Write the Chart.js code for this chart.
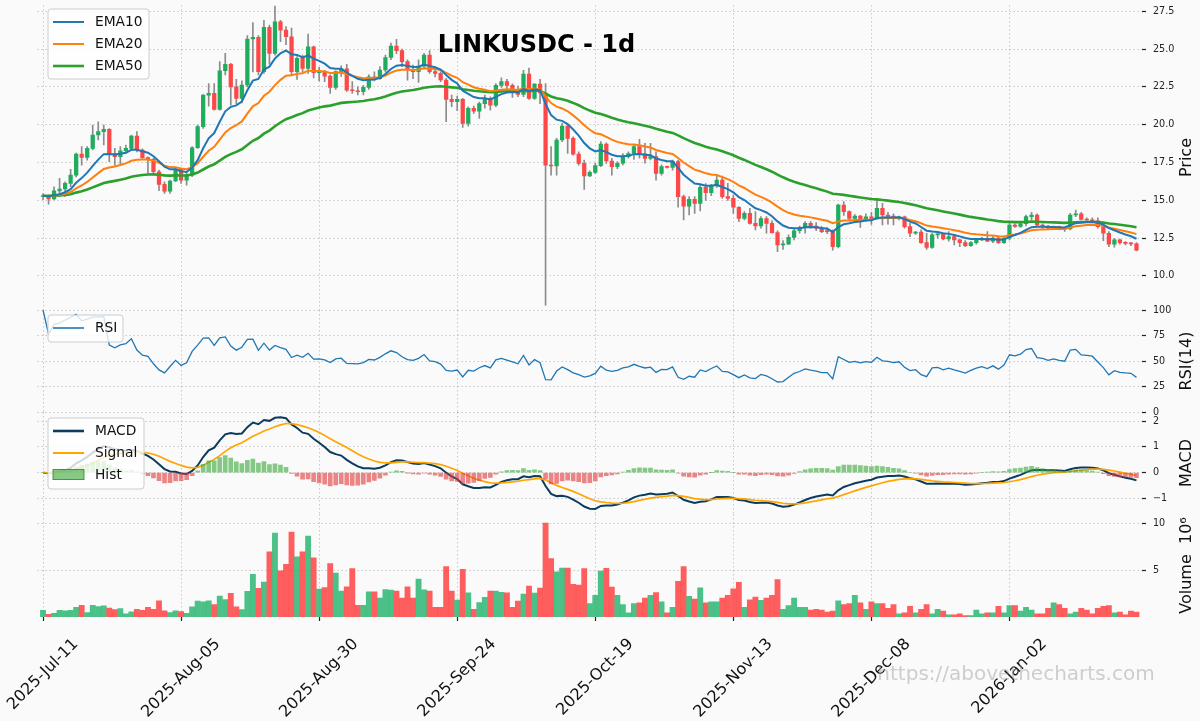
<!DOCTYPE html>
<html>
<head>
<meta charset="utf-8">
<title>LINKUSDC - 1d</title>
<script src="https://cdn.jsdelivr.net/npm/chart.js@4.4.1/dist/chart.umd.min.js"></script>
<style>
  html, body { margin:0; padding:0; background:#fafafa; }
  #wrap { position:relative; width:1200px; height:721px; overflow:hidden; background:#fafafa; }
  #wrap canvas { position:absolute; left:0; }
</style>
</head>
<body>
<div id="wrap">
  <canvas id="cPrice" width="1200" height="360" style="top:-25px"></canvas>
  <canvas id="cRsi" width="1200" height="162" style="top:280px"></canvas>
  <canvas id="cMacd" width="1200" height="162" style="top:382px"></canvas>
  <canvas id="cVol" width="1200" height="237" style="top:484px"></canvas>
</div>
<script>
// ---------------- DATA ----------------
const tickIndex  = [0, 25, 50, 75, 100, 125, 150, 175];
const tickLabels = ['2025-Jul-11','2025-Aug-05','2025-Aug-30','2025-Sep-24','2025-Oct-19','2025-Nov-13','2025-Dec-08','2026-Jan-02'];

const openP = [
15.25,15.30,15.10,15.63,15.75,16.12,16.67,18.06,17.84,18.44,
19.32,19.54,19.69,18.10,17.89,18.28,18.44,19.25,18.33,17.82,
17.71,16.89,16.06,15.60,16.28,17.05,16.34,16.67,18.48,19.87,
21.96,22.07,21.02,23.57,23.99,22.50,21.74,22.63,25.67,25.78,
23.51,26.44,24.72,26.81,26.26,25.82,23.51,24.39,23.73,25.16,
23.44,23.53,23.22,22.47,23.51,23.70,22.29,22.25,22.18,22.47,
23.17,23.05,23.62,24.45,25.20,24.90,24.17,23.62,23.51,23.88,
24.61,23.51,23.40,22.96,21.68,21.52,21.68,20.09,21.08,20.90,
21.40,21.74,21.30,22.60,22.85,22.60,22.30,22.00,23.35,21.74,
22.69,22.10,17.33,17.27,18.99,19.91,19.10,18.06,17.44,16.61,
16.85,17.29,18.72,17.60,17.23,17.45,17.89,18.10,18.55,18.10,
17.77,17.90,16.78,17.23,17.18,17.56,15.24,14.62,15.06,14.80,
15.86,15.50,15.95,16.34,15.24,15.13,14.54,13.80,14.14,13.48,
13.30,13.80,13.48,12.86,12.05,12.10,12.55,12.99,13.19,13.48,
13.30,13.15,12.98,12.93,11.93,14.69,14.25,13.81,13.95,13.75,
13.90,13.81,14.47,14.03,13.95,13.81,13.90,13.26,12.82,12.90,
12.20,11.89,12.71,12.75,12.44,12.60,12.38,12.20,12.00,12.20,
12.38,12.49,12.30,12.50,12.20,12.49,13.37,13.28,13.45,13.92,
14.03,13.37,13.30,13.15,13.26,13.15,13.10,14.03,14.10,13.74,
13.70,13.65,13.26,12.82,12.10,12.38,12.20,12.15,12.12];

const highP = [
15.45,15.35,15.90,16.45,16.22,17.05,18.12,18.55,18.55,19.98,
20.20,19.98,19.75,18.44,18.55,18.66,19.32,19.54,18.40,17.88,
17.77,17.00,16.23,16.34,17.11,17.11,16.82,18.55,19.98,22.00,
22.73,22.73,24.17,24.72,24.06,23.00,22.90,25.90,26.75,25.90,
26.90,26.60,27.85,26.90,26.50,26.40,24.50,24.60,26.00,25.20,
23.80,23.60,23.30,23.57,23.90,24.00,22.85,22.50,22.60,23.30,
23.50,23.85,24.60,25.40,25.65,25.00,24.30,23.95,24.30,24.72,
24.90,23.73,23.50,23.07,21.96,21.90,21.74,21.19,21.23,21.50,
21.96,21.85,22.73,23.10,23.00,22.70,22.55,23.60,23.75,22.73,
23.00,22.73,18.55,19.10,20.09,20.00,19.20,18.20,17.66,16.95,
17.44,18.88,18.80,17.77,17.56,18.10,18.20,18.66,19.03,18.77,
18.77,18.20,17.34,17.27,17.67,17.67,15.35,15.24,15.24,16.00,
16.10,16.05,16.60,16.60,16.12,15.35,14.58,14.25,14.47,14.25,
13.92,13.92,13.65,12.99,12.33,12.71,13.15,13.30,13.59,13.59,
13.52,13.26,13.20,13.04,14.75,14.92,14.30,14.05,14.00,14.10,
14.20,15.02,14.80,14.20,14.10,13.95,13.95,13.48,12.95,13.04,
12.82,12.82,12.82,12.82,12.93,12.71,12.44,12.33,12.27,12.44,
12.55,12.93,12.60,12.55,12.55,13.59,13.45,13.50,14.03,14.20,
14.10,13.45,13.35,13.30,13.30,13.20,14.14,14.36,14.20,13.85,
13.85,13.85,13.37,12.93,12.49,12.44,12.27,12.20,12.20];

const lowP = [
15.05,14.75,15.02,15.25,15.25,15.90,16.55,17.33,17.66,18.33,
18.99,18.66,17.55,17.33,17.33,18.10,18.33,18.20,17.77,16.78,
16.78,15.64,15.46,15.46,16.23,16.12,16.00,16.56,18.44,19.76,
21.23,20.97,20.97,23.30,21.30,21.40,21.45,22.50,23.50,23.30,
23.40,24.00,24.60,25.50,25.30,23.30,23.00,23.50,23.40,23.10,
22.90,22.85,22.07,22.34,23.20,22.20,22.07,21.97,21.97,22.34,
22.90,23.00,23.50,24.30,24.70,23.84,22.95,23.05,22.80,23.73,
23.40,23.17,22.85,20.20,21.19,20.93,19.83,19.90,20.75,20.42,
21.10,20.97,21.20,22.47,22.40,21.80,21.85,21.85,21.68,21.68,
21.40,8.07,16.67,16.67,18.88,18.10,17.99,17.33,15.72,16.56,
16.78,17.23,17.44,16.67,17.10,17.34,17.78,17.70,17.78,17.45,
17.67,16.34,16.67,17.12,17.00,14.54,13.70,14.03,14.14,14.30,
15.00,15.30,15.85,15.13,15.00,14.14,13.59,13.70,13.43,13.04,
13.15,12.82,12.82,11.60,11.76,12.08,12.38,12.82,12.82,13.15,
13.00,12.86,12.80,11.71,11.85,14.00,13.70,13.75,13.20,13.60,
13.40,13.75,13.37,13.43,13.37,13.70,13.15,12.60,12.75,12.15,
11.76,11.82,12.49,12.38,12.30,12.05,11.93,11.93,11.95,12.10,
12.33,12.27,12.20,12.15,12.15,12.38,13.20,13.20,13.30,13.70,
13.30,13.10,13.10,13.10,13.05,12.95,13.05,13.92,13.70,13.59,
13.59,13.15,12.33,11.93,11.90,12.10,12.05,12.00,11.65];

const closeP = [
15.30,15.10,15.63,15.75,16.12,16.67,18.06,17.84,18.44,19.32,
19.54,19.69,18.10,17.89,18.28,18.44,19.25,18.33,17.82,17.71,
16.89,16.06,15.60,16.28,17.05,16.34,16.67,18.48,19.87,21.96,
22.07,21.02,23.57,23.99,22.50,21.74,22.63,25.67,25.78,23.51,
26.44,24.72,26.81,26.26,25.82,23.51,24.39,23.73,25.16,23.44,
23.53,23.22,22.47,23.51,23.70,22.29,22.25,22.18,22.47,23.17,
23.05,23.62,24.45,25.20,24.90,24.17,23.62,23.51,23.88,24.61,
23.51,23.40,22.96,21.68,21.52,21.68,20.09,21.08,20.90,21.40,
21.74,21.30,22.60,22.85,22.60,22.30,22.00,23.35,21.74,22.69,
22.10,17.33,17.27,18.99,19.91,19.10,18.06,17.44,16.61,16.85,
17.29,18.72,17.60,17.23,17.45,17.89,18.10,18.55,18.10,17.77,
17.90,16.78,17.23,17.18,17.56,15.24,14.62,15.06,14.80,15.86,
15.50,15.95,16.34,15.24,15.13,14.54,13.80,14.14,13.48,13.30,
13.80,13.48,12.86,12.05,12.10,12.55,12.99,13.19,13.48,13.30,
13.15,12.93,12.93,11.93,14.69,14.25,13.81,13.95,13.75,13.90,
13.81,14.47,14.03,13.95,13.81,13.90,13.26,12.82,12.90,12.20,
11.89,12.71,12.75,12.44,12.60,12.38,12.20,12.00,12.20,12.38,
12.49,12.30,12.50,12.20,12.49,13.37,13.28,13.45,13.92,14.03,
13.37,13.30,13.15,13.26,13.15,13.10,14.03,14.10,13.74,13.70,
13.65,13.26,12.82,12.10,12.38,12.20,12.15,12.12,11.71];

// volume, in millions
const volumeM = [
0.69,0.25,0.36,0.69,0.62,0.69,1.00,1.23,0.43,1.23,
1.09,1.16,0.91,0.76,0.87,0.29,0.51,0.80,0.69,1.01,
0.80,1.70,0.62,0.43,0.62,0.54,0.36,1.05,1.67,1.60,
1.70,1.30,2.21,1.85,2.50,1.05,0.76,2.72,4.57,3.04,
3.73,6.99,9.02,4.93,5.65,9.13,6.45,6.99,8.70,6.34,
2.97,3.12,5.72,4.71,2.75,3.22,5.18,1.23,1.23,2.68,
2.68,2.00,2.93,2.86,2.75,2.00,3.22,2.00,4.06,2.90,
2.75,1.01,1.01,5.40,2.75,1.78,5.11,2.57,0.80,1.52,
2.07,2.75,2.75,2.61,2.57,1.01,1.67,2.43,3.30,2.54,
3.08,10.10,6.27,4.82,5.25,5.25,3.48,3.41,5.18,1.40,
2.30,4.90,5.20,3.20,2.30,1.30,0.40,1.40,1.50,2.00,
2.30,2.60,1.60,0.40,1.00,3.80,5.40,2.20,1.90,3.10,
1.50,1.60,1.60,2.00,2.30,3.00,3.70,1.00,1.80,2.10,
1.75,2.00,2.30,4.00,0.80,1.20,2.00,1.00,1.00,0.70,
0.80,0.70,0.50,0.60,1.70,1.30,1.40,2.30,1.50,0.80,
1.60,1.40,1.40,0.90,1.30,0.30,0.40,1.10,0.40,0.80,
1.30,0.30,0.80,0.60,0.20,0.20,0.30,0.10,0.10,0.70,
0.30,0.40,0.40,1.10,0.40,1.20,1.20,0.60,1.00,0.70,
0.30,0.30,0.90,1.50,1.30,0.90,0.30,0.50,0.90,0.70,
0.30,0.90,1.10,1.20,0.40,0.50,0.20,0.60,0.50];

const priceTicks = [10, 12.5, 15, 17.5, 20, 22.5, 25, 27.5];
const rsiTicks   = [0, 25, 50, 75, 100];
const macdTicks  = [-1, 0, 1, 2];
const volTicks   = [5, 10];

// ---------------- indicators derived from the candles ----------------
function ema(arr, n) {
  const a = 2 / (n + 1); const out = []; let prev = arr[0];
  for (let i = 0; i < arr.length; i++) { prev = i === 0 ? arr[0] : a * arr[i] + (1 - a) * prev; out.push(prev); }
  return out;
}
const ema10 = ema(closeP, 10), ema20 = ema(closeP, 20), ema50 = ema(closeP, 50);
const rsi = (() => {
  const out = []; let g = 0, l = 0;
  for (let i = 0; i < closeP.length; i++) {
    const d = i === 0 ? closeP[0] - openP[0] : closeP[i] - closeP[i - 1];
    const gain = Math.max(d, 0), loss = Math.max(-d, 0);
    if (i === 0) { g = gain; l = loss; } else { g = g * 13 / 14 + gain / 14; l = l * 13 / 14 + loss / 14; }
    out.push(l === 0 ? 100 : 100 - 100 / (1 + g / l));
  }
  return out;
})();
const e12 = ema(closeP, 12), e26 = ema(closeP, 26);
const macd = e12.map((v, i) => v - e26[i]);
const signal = ema(macd, 9);
const hist = macd.map((v, i) => v - signal[i]);

// ---------------- styling ----------------
Chart.defaults.font.family = '"DejaVu Sans", sans-serif';
const FONT = '"DejaVu Sans", sans-serif';
const GRID = 'rgba(0,0,0,0.22)';
const UP = '#1fac5d', DOWN = '#ff4747';
const AREA_LEFT = 37.5, AXIS_W = 58;
const idx = closeP.map((_, i) => i);
const up = closeP.map((c, i) => c >= openP[i]);
const pts = arr => idx.map(i => ({ x: i, y: arr[i] }));

function xScale(showTicks) {
  return {
    type: 'linear', min: -1, max: 199, offset: false,
    afterBuildTicks: s => { s.ticks = tickIndex.map(v => ({ value: v })); },
    afterFit: s => { s.height = showTicks ? 4 : 0; },
    ticks: { display: false },
    grid: { color: GRID, lineWidth: 0.9, offset: false, drawTicks: showTicks, tickLength: 4, tickColor: '#222', tickWidth: 1.2, tickBorderDash: [] },
    border: { display: false, dash: [1.5, 2.5] }
  };
}
function yScale(min, max, vals, fmt) {
  return {
    position: 'right', min: min, max: max,
    afterBuildTicks: s => { s.ticks = vals.map(v => ({ value: v })); },
    afterFit: s => { s.width = AXIS_W; },
    ticks: { padding: 7, color: '#222', font: { size: 9.6 }, callback: v => fmt(v), autoSkip: false },
    grid: { color: GRID, lineWidth: 0.9, drawTicks: true, tickLength: 4, tickColor: '#222', tickWidth: 1.2, tickBorderDash: [] },
    border: { display: false, dash: [1.5, 2.5] }
  };
}
function baseOpts(padTop, padBottom, showX, y) {
  return {
    responsive: false, animation: false, events: [],
    layout: { padding: { left: AREA_LEFT, right: 0, top: padTop, bottom: padBottom } },
    plugins: { legend: { display: false }, tooltip: { enabled: false } },
    scales: { x: xScale(showX), y: y }
  };
}
function rrect(ctx, x, y, w, h, r) {
  ctx.beginPath();
  ctx.moveTo(x + r, y); ctx.lineTo(x + w - r, y); ctx.quadraticCurveTo(x + w, y, x + w, y + r);
  ctx.lineTo(x + w, y + h - r); ctx.quadraticCurveTo(x + w, y + h, x + w - r, y + h);
  ctx.lineTo(x + r, y + h); ctx.quadraticCurveTo(x, y + h, x, y + h - r);
  ctx.lineTo(x, y + r); ctx.quadraticCurveTo(x, y, x + r, y); ctx.closePath();
}
function legendBox(ctx, x, y, w, h) {
  ctx.save(); rrect(ctx, x, y, w, h, 3);
  ctx.fillStyle = 'rgba(255,255,255,0.8)'; ctx.fill();
  ctx.strokeStyle = '#cccccc'; ctx.lineWidth = 1; ctx.stroke(); ctx.restore();
}
function legendLine(ctx, y, color, width, text) {
  ctx.save(); ctx.strokeStyle = color; ctx.lineWidth = width; ctx.beginPath();
  ctx.moveTo(53, y); ctx.lineTo(84, y); ctx.stroke();
  ctx.fillStyle = '#111'; ctx.font = '13.8px ' + FONT; ctx.textAlign = 'left'; ctx.textBaseline = 'middle';
  ctx.fillText(text, 95, y + 0.5); ctx.restore();
}
function axisTitle(chart, text) {
  const ctx = chart.ctx, a = chart.chartArea;
  ctx.save(); ctx.translate(1187, (a.top + a.bottom) / 2); ctx.rotate(-Math.PI / 2);
  ctx.font = '16px ' + FONT; ctx.fillStyle = '#111'; ctx.textAlign = 'center'; ctx.textBaseline = 'middle';
  ctx.fillText(text, 0, 0); ctx.restore();
}

// ---------------- price panel ----------------
const PRICE_TOP = -25;
new Chart(document.getElementById('cPrice'), {
  type: 'bar',
  data: { datasets: [
    { type: 'line', data: pts(ema10), borderColor: '#1f77b4', borderWidth: 2, pointRadius: 0, order: 0 },
    { type: 'line', data: pts(ema20), borderColor: '#ff7f0e', borderWidth: 2, pointRadius: 0, order: 0 },
    { type: 'line', data: pts(ema50), borderColor: '#2ca02c', borderWidth: 2.6, pointRadius: 0, order: 0 },
    { type: 'bar', data: idx.map(i => ({ x: i, y: [openP[i], closeP[i]] })), backgroundColor: up.map(u => u ? UP : DOWN),
      barThickness: 3.6, grouped: false, minBarLength: 1, order: 2 },
    { type: 'bar', data: idx.map(i => ({ x: i, y: [lowP[i], highP[i]] })), backgroundColor: '#8c8c8c',
      barThickness: 1, grouped: false, order: 3 }
  ] },
  options: baseOpts(30, 25, false, yScale(7.745, 27.92, priceTicks, v => v.toFixed(1))),
  plugins: [{ id: 'priceDeco', afterDraw(chart) {
    const ctx = chart.ctx, o = -PRICE_TOP;
    legendBox(ctx, 48, 9 + o, 101, 70);
    legendLine(ctx, 22 + o, '#1f77b4', 2, 'EMA10');
    legendLine(ctx, 44 + o, '#ff7f0e', 2, 'EMA20');
    legendLine(ctx, 66 + o, '#2ca02c', 2.6, 'EMA50');
    ctx.save(); ctx.font = 'bold 24px ' + FONT; ctx.fillStyle = '#000'; ctx.textAlign = 'center'; ctx.textBaseline = 'middle';
    ctx.fillText('LINKUSDC - 1d', 536.5, 46 + o); ctx.restore();
    axisTitle(chart, 'Price');
  } }]
});

// ---------------- RSI panel ----------------
const RSI_TOP = 280;
new Chart(document.getElementById('cRsi'), {
  type: 'line',
  data: { datasets: [ { data: pts(rsi), borderColor: '#1f77b4', borderWidth: 1.3, pointRadius: 0 } ] },
  options: baseOpts(30, 30, false, yScale(0, 100, rsiTicks, v => String(v))),
  plugins: [{ id: 'rsiDeco', afterDraw(chart) {
    const ctx = chart.ctx, o = -RSI_TOP;
    legendBox(ctx, 48, 315 + o, 75, 27);
    legendLine(ctx, 328 + o, '#1f77b4', 1.6, 'RSI');
    axisTitle(chart, 'RSI(14)');
  } }]
});

// ---------------- MACD panel ----------------
const MACD_TOP = 382;
new Chart(document.getElementById('cMacd'), {
  type: 'bar',
  data: { datasets: [
    { type: 'bar', data: pts(hist), backgroundColor: hist.map(h => h >= 0 ? 'rgba(60,170,60,0.62)' : 'rgba(225,55,55,0.6)'),
      barThickness: 4, grouped: false, order: 0 },
    { type: 'line', data: pts(macd), borderColor: '#0b3c5d', borderWidth: 2, pointRadius: 0, order: 2 },
    { type: 'line', data: pts(signal), borderColor: '#ffa500', borderWidth: 1.7, pointRadius: 0, order: 1 }
  ] },
  options: baseOpts(30, 30, false, yScale(-1.60, 2.353, macdTicks, v => v < 0 ? '\u2212' + Math.abs(v) : String(v))),
  plugins: [{ id: 'macdDeco', afterDraw(chart) {
    const ctx = chart.ctx, o = -MACD_TOP;
    legendBox(ctx, 48, 418 + o, 96, 71);
    legendLine(ctx, 431 + o, '#0b3c5d', 2.6, 'MACD');
    legendLine(ctx, 453 + o, '#ffa500', 2, 'Signal');
    ctx.save(); ctx.fillStyle = 'rgba(60,170,60,0.62)'; ctx.fillRect(53, 469.5 + o, 31, 10);
    ctx.strokeStyle = 'rgba(40,130,40,0.8)'; ctx.lineWidth = 1; ctx.strokeRect(53, 469.5 + o, 31, 10);
    ctx.fillStyle = '#111'; ctx.font = '13.8px ' + FONT; ctx.textAlign = 'left'; ctx.textBaseline = 'middle';
    ctx.fillText('Hist', 95, 475 + o); ctx.restore();
    axisTitle(chart, 'MACD');
  } }]
});

// ---------------- Volume panel ----------------
const VOL_TOP = 484;
new Chart(document.getElementById('cVol'), {
  type: 'bar',
  data: { datasets: [
    { type: 'bar', data: pts(volumeM), backgroundColor: up.map(u => u ? 'rgba(36,180,110,0.82)' : 'rgba(255,60,60,0.82)'),
      barThickness: 5.2, grouped: false }
  ] },
  options: baseOpts(30, 100, true, yScale(-0.04, 11.07, volTicks, v => String(v))),
  plugins: [{ id: 'volDeco', afterDraw(chart) {
    const ctx = chart.ctx, o = -VOL_TOP;
    axisTitle(chart, 'Volume  10\u2076');
    // rotated date labels
    ctx.save(); ctx.font = '16px ' + FONT; ctx.fillStyle = '#111';
    tickIndex.forEach((v, k) => {
      const x = chart.scales.x.getPixelForValue(v);
      const w = ctx.measureText(tickLabels[k]).width, h = 13;
      const cy = 637 + o + (w + h) * 0.7071 / 2;
      ctx.save(); ctx.translate(x, cy); ctx.rotate(-Math.PI / 4);
      ctx.textAlign = 'center'; ctx.textBaseline = 'middle'; ctx.fillText(tickLabels[k], 0, 0); ctx.restore();
    });
    ctx.restore();
    // watermark
    ctx.save(); ctx.font = '20px ' + FONT; ctx.fillStyle = 'rgba(150,150,150,0.45)';
    ctx.textAlign = 'center'; ctx.textBaseline = 'middle';
    ctx.fillText('https://abovethecharts.com', 1016, 675 + o); ctx.restore();
  } }]
});
</script>
</body>
</html>
